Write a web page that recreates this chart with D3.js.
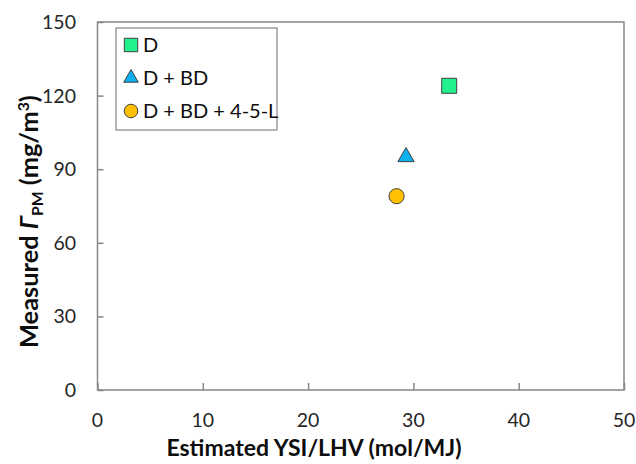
<!DOCTYPE html>
<html>
<head>
<meta charset="utf-8">
<script src="https://cdn.jsdelivr.net/npm/d3@7"></script>
<style>
  body { margin: 0; background: #fff; }
  text { font-family: Lato, sans-serif; fill: #000; }
</style>
</head>
<body>
<div id="chart"></div>
<script>
// Data
const fuels = ['D', 'D + BD', 'D + BD + 4-5-L']
const ysiLhv = [33.4, 29.3, 28.4]
const measuredPm = [124, 95, 79]
const xTicks = [0, 10, 20, 30, 40, 50]
const yTicks = [0, 30, 60, 90, 120, 150]

// Marker styles, one per fuel
const shapes = [d3.symbolSquare, d3.symbolTriangle, d3.symbolCircle]
const sizes = [225, 115, 180]
const colors = ['#22f28e', '#0bb0ef', '#ffc000']

const W = 636
const H = 464
const margin = { left: 97.5, right: 12, top: 22, bottom: 74 }

const svg = d3.select('#chart')
  .append('svg')
  .attr('width', W)
  .attr('height', H)

const x = d3.scaleLinear().domain([0, 50]).range([margin.left, W - margin.right])
const y = d3.scaleLinear().domain([0, 150]).range([H - margin.bottom, margin.top])

// Plot frame
svg.append('rect')
  .attr('x', x(0))
  .attr('y', y(150))
  .attr('width', x(50) - x(0))
  .attr('height', y(0) - y(150))
  .attr('fill', 'none')
  .attr('stroke', '#868686')
  .attr('stroke-width', 1.5)

// Axes with inward ticks
const xAxis = svg.append('g')
  .attr('transform', `translate(0,${y(0)})`)
  .call(d3.axisTop(x).tickValues(xTicks).tickSize(7).tickFormat(''))
xAxis.select('.domain').remove()
xAxis.selectAll('line').attr('stroke', '#868686').attr('stroke-width', 1.5)

const yAxis = svg.append('g')
  .attr('transform', `translate(${x(0)},0)`)
  .call(d3.axisRight(y).tickValues(yTicks).tickSize(6).tickFormat(''))
yAxis.select('.domain').remove()
yAxis.selectAll('line').attr('stroke', '#868686').attr('stroke-width', 1.5)

// Tick labels
svg.selectAll('.xlab')
  .data(xTicks)
  .enter()
  .append('text')
  .attr('x', d => x(d))
  .attr('y', 427)
  .attr('text-anchor', 'middle')
  .attr('font-size', 19.5)
  .style('fill', '#262626')
  .text(d => d)

svg.selectAll('.ylab')
  .data(yTicks)
  .enter()
  .append('text')
  .attr('x', 76)
  .attr('y', d => y(d) + 7)
  .attr('text-anchor', 'end')
  .attr('font-size', 19.5)
  .style('fill', '#262626')
  .text(d => d)

// Axis titles
svg.append('text')
  .attr('x', 314)
  .attr('y', 456)
  .attr('text-anchor', 'middle')
  .attr('font-size', 23)
  .attr('font-weight', 'bold')
  .style('fill', '#0d0d0d')
  .text('Estimated YSI/LHV (mol/MJ)')

// y title runs from y=348 up to about y=95
const yt = svg.append('text')
  .attr('transform', 'translate(38,348) rotate(-90)')
  .attr('text-anchor', 'start')
  .attr('font-size', 23)
  .attr('font-weight', 'bold')
  .style('fill', '#0d0d0d')
yt.append('tspan').text('Measured ')
yt.append('tspan').attr('font-style', 'italic').text('Γ')
yt.append('tspan').attr('font-size', '0.62em').attr('dy', 5).text('PM')
yt.append('tspan').attr('dy', -5).text(' (mg/m')
yt.append('tspan').attr('font-size', '0.62em').attr('dy', -9).text('3')
yt.append('tspan').attr('dy', 9).text(')')
const ytLen = yt.node().getBBox().width
yt.attr('font-size', 23 * 253 / ytLen)

// Data points
svg.selectAll('.pt')
  .data(fuels)
  .enter()
  .append('path')
  .attr('d', (d, i) => d3.symbol().type(shapes[i]).size(sizes[i])())
  .attr('transform', (d, i) => `translate(${x(ysiLhv[i])},${y(measuredPm[i])})`)
  .attr('fill', (d, i) => colors[i])
  .attr('stroke', '#404040')
  .attr('stroke-width', 1)

// Legend
const legend = svg.append('g')
legend.append('rect')
  .attr('x', 116)
  .attr('y', 28)
  .attr('width', 161)
  .attr('height', 102)
  .attr('fill', '#fff')
  .attr('stroke', '#868686')
  .attr('stroke-width', 1.2)

const items = legend.selectAll('.item')
  .data(fuels)
  .enter()
  .append('g')
  .attr('transform', (d, i) => `translate(131,${45 + i * 33})`)
items.append('path')
  .attr('d', (d, i) => d3.symbol().type(shapes[i]).size(sizes[i] * 0.8)())
  .attr('fill', (d, i) => colors[i])
  .attr('stroke', '#404040')
  .attr('stroke-width', 1)
items.append('text')
  .attr('x', 12)
  .attr('y', 7)
  .attr('font-size', 20)
  .style('fill', '#0d0d0d')
  .text(d => d)
</script>
</body>
</html>
